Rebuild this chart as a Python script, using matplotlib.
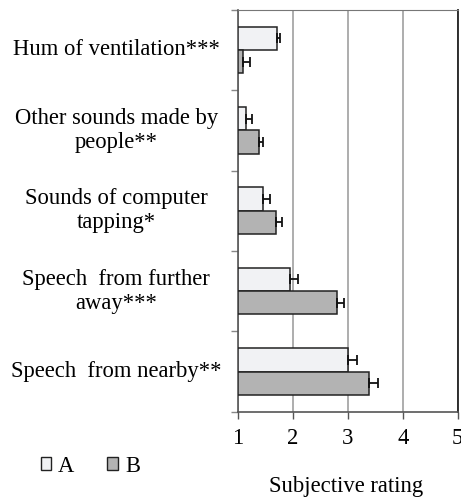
import numpy as np
import matplotlib
matplotlib.use("Agg")
from matplotlib import pyplot as plt
from matplotlib.patches import Patch
import matplotlib.transforms as mtransforms

plt.rcParams['font.family'] = ['Liberation Serif', 'DejaVu Serif']

# data (top to bottom)
categories = ["Hum of ventilation***",
              "Other sounds made by\npeople**",
              "Sounds of computer\ntapping*",
              "Speech  from further\naway***",
              "Speech  from nearby**"]
a_vals = [1.72, 1.15, 1.46, 1.95, 3.00]
a_err = [0.05, 0.10, 0.12, 0.15, 0.16]
b_vals = [1.09, 1.38, 1.69, 2.80, 3.38]
b_err = [0.13, 0.07, 0.11, 0.13, 0.16]
x_ticks = [1, 2, 3, 4, 5]

FS = 16.3

fig = plt.figure(figsize=(4.61, 4.98), dpi=100)
ax = fig.add_axes([0.516, 0.1733, 0.477, 0.807])

n = len(categories)
y = np.arange(n)[::-1].astype(float)  # top category at highest y
h = 0.29
err_kw = dict(ecolor='#111111', elinewidth=1.3, capsize=3.5, capthick=1.3)

ax.barh(y + h / 2, np.array(a_vals) - 1, left=1, height=h, color='#f1f2f4',
        edgecolor='#222222', linewidth=1.1, zorder=3,
        xerr=[np.zeros(n), a_err], error_kw=err_kw)
ax.barh(y - h / 2, np.array(b_vals) - 1, left=1, height=h, color='#b3b3b3',
        edgecolor='#222222', linewidth=1.1, zorder=3,
        xerr=[np.zeros(n), b_err], error_kw=err_kw)

ax.set_xlim(1, 5)
ax.set_ylim(-0.5, n - 0.5)
ax.set_xticks(x_ticks)
ax.set_xticklabels([str(t) for t in x_ticks], fontsize=FS)
ax.tick_params(axis='x', direction='out', length=5, width=1, color='#555555', pad=7)

# category boundary ticks on left
ax.set_yticks(np.arange(-0.5, n, 1.0))
ax.set_yticklabels([])
ax.tick_params(axis='y', direction='out', length=5, width=1, color='#888888')

ax.grid(axis='x', color='#a0a0a0', linewidth=1.2, zorder=0)
ax.set_axisbelow(True)
for s in ['left', 'bottom']:
    ax.spines[s].set_color('#555555')
    ax.spines[s].set_linewidth(1.2)
ax.spines['top'].set_color('#777777')
ax.spines['right'].set_color('#222222')
ax.spines['right'].set_linewidth(1.3)

# category labels, centered block left of axes
trans = mtransforms.blended_transform_factory(fig.transFigure, ax.transData)
for yi, label in zip(y, categories):
    ax.text(0.252, yi, label, transform=trans, ha='center', va='center',
            multialignment='center', fontsize=FS, linespacing=1.2)

fig.text(0.751, 0.024, "Subjective rating", ha='center', va='center', fontsize=FS)

handles = [Patch(facecolor='#f1f2f4', edgecolor='#222222', linewidth=1.0, label='A'),
           Patch(facecolor='#b3b3b3', edgecolor='#222222', linewidth=1.0, label='B')]
fig.legend(handles=handles, loc='center left', bbox_to_anchor=(0.088, 0.064),
           ncol=2, frameon=False, fontsize=FS, handlelength=0.48, handleheight=0.55,
           handletextpad=0.3, columnspacing=1.45, borderpad=0, borderaxespad=0)

fig.savefig("out.png", dpi=100)
